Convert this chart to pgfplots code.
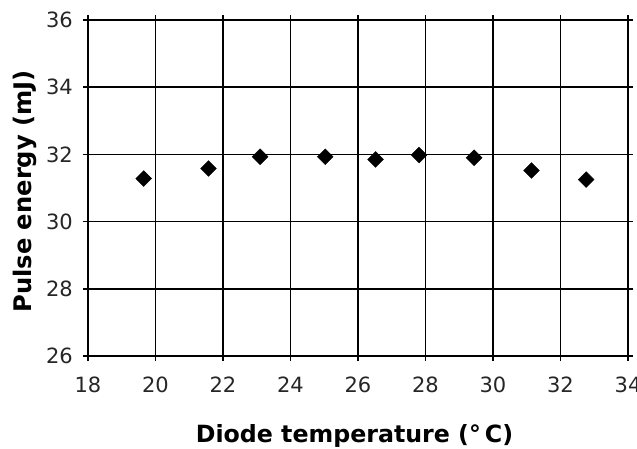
\documentclass[border=0pt]{standalone}
\usepackage{pgfplots}
\pgfplotsset{compat=1.18}
\usepackage{fontspec}
\setmainfont{DejaVu Sans}
\begin{document}
\begin{tikzpicture}
\begin{axis}[
  scale only axis,
  width=540bp, height=336bp,
  xmin=18, xmax=34, ymin=26, ymax=36,
  xtick={18,20,...,34}, ytick={26,28,...,36},
  grid=major,
  grid style={black, line width=1.6bp},
  axis line style={black, line width=1.6bp},
  every tick/.style={black, line width=1.4bp},
  tick align=outside,
  major tick length=5bp,
  /pgf/number format/assume math mode=true,
  tick label style={font=\fontsize{21bp}{25bp}\selectfont, text=black!85},
  xticklabel style={anchor=north, inner sep=0pt, yshift=-16bp},
  yticklabel style={anchor=east, inner sep=0pt, xshift=-10bp},
  xlabel={Diode temperature (°\,C)},
  ylabel={Pulse energy (mJ)},
  every axis x label/.style={at={(axis description cs:0.4935,0)}, anchor=base, yshift=-86bp, font=\bfseries\fontsize{23.7bp}{28bp}\selectfont},
  every axis y label/.style={at={(axis description cs:-0.105,0.49)}, rotate=90, anchor=base, font=\bfseries\fontsize{24.2bp}{28bp}\selectfont},
]
\addplot[only marks, mark=square*, mark size=5.6bp, mark options={rotate=45, fill=black, draw=black}]
coordinates {
(19.65,31.28) (21.57,31.58) (23.10,31.93) (25.03,31.93) (26.52,31.85)
(27.81,31.98) (29.44,31.90) (31.14,31.52) (32.76,31.25)
};
\end{axis}
\pgfresetboundingbox
\path[use as bounding box] ([shift={(-88bp,-93bp)}]current axis.south west) rectangle ([shift={(9bp,20bp)}]current axis.north east);
\end{tikzpicture}
\end{document}
